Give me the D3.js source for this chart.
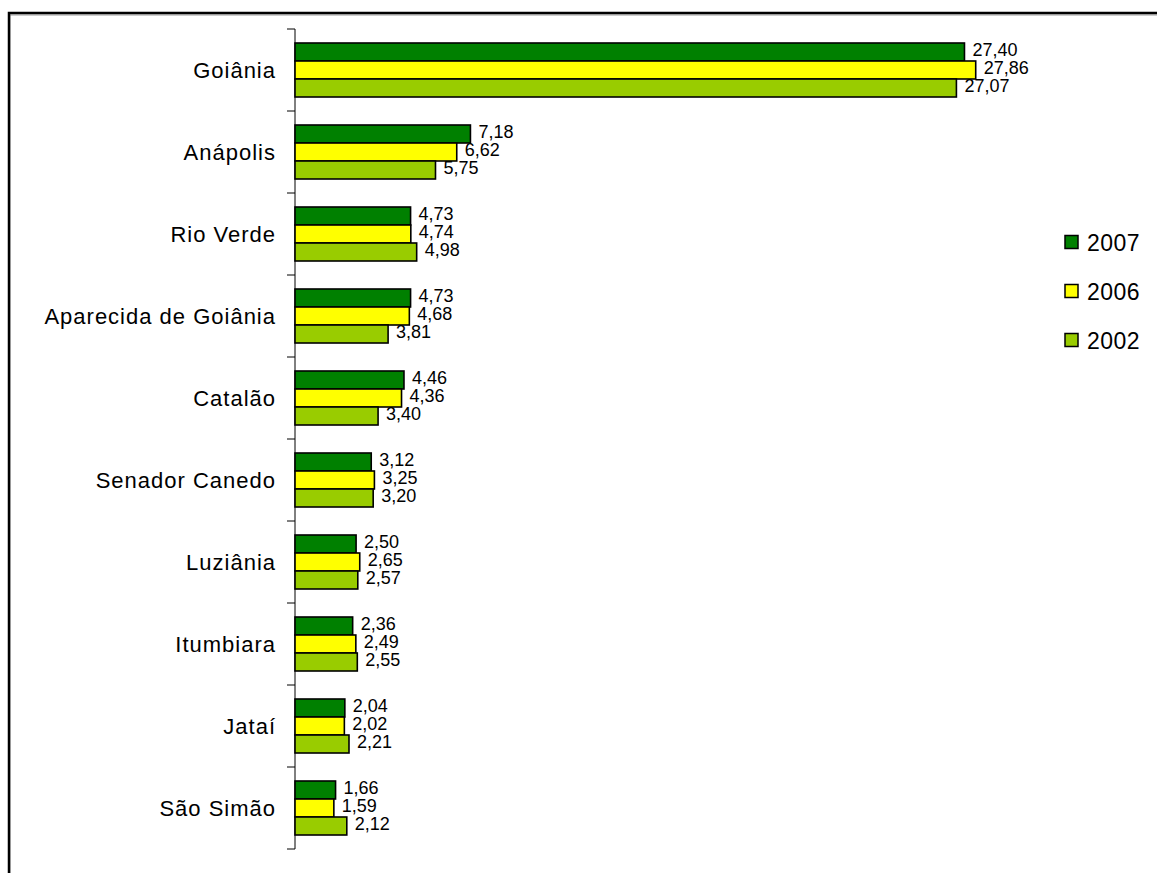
<!DOCTYPE html>
<html>
<head>
<meta charset="utf-8">
<script src="https://cdn.jsdelivr.net/npm/d3@7/dist/d3.min.js"></script>
<style>
  html, body { margin: 0; padding: 0; background: #fff; }
  svg { display: block; }
  text { font-family: "Liberation Sans", Arial, sans-serif; fill: #000; }
</style>
</head>
<body>
<svg id="chart" width="1157" height="873"></svg>
<script>
const categories = ["Goiânia", "Anápolis", "Rio Verde", "Aparecida de Goiânia", "Catalão",
  "Senador Canedo", "Luziânia", "Itumbiara", "Jataí", "São Simão"];
const seriesNames = ["2007", "2006", "2002"];
const values2007 = [27.40, 7.18, 4.73, 4.73, 4.46, 3.12, 2.50, 2.36, 2.04, 1.66];
const values2006 = [27.86, 6.62, 4.74, 4.68, 4.36, 3.25, 2.65, 2.49, 2.02, 1.59];
const values2002 = [27.07, 5.75, 4.98, 3.81, 3.40, 3.20, 2.57, 2.55, 2.21, 2.12];
const seriesColors = ["#008000", "#FFFF00", "#99CC00"];

const series = [values2007, values2006, values2002];
const svg = d3.select("#chart");

// outer frame
svg.append("path").attr("d", "M10,1000 V15 H1200").attr("fill", "none")
  .attr("stroke", "#999").attr("stroke-width", 1);
svg.append("path").attr("d", "M9,1000 V13 H1200").attr("fill", "none")
  .attr("stroke", "#000").attr("stroke-width", 2.5);

const x = d3.scaleLinear().domain([0, 30]).range([295, 295 + 733]);
const y = d3.scaleBand().domain(categories).range([29, 849]);
const inner = d3.scaleBand().domain(seriesNames).range([14, 68]);

// axis
const axisG = svg.append("g").attr("transform", "translate(295,0)");
axisG.append("line").attr("x1", 0).attr("x2", 0).attr("y1", 29).attr("y2", 849)
  .attr("stroke", "#000").attr("stroke-width", 1);
const tickYs = categories.map(c => y(c)).concat([y.range()[1]]);
axisG.selectAll("line.tick").data(tickYs).enter().append("line")
  .attr("class", "tick").attr("x1", -8).attr("x2", 0)
  .attr("y1", d => d).attr("y2", d => d)
  .attr("stroke", "#000").attr("stroke-width", 1);

// category labels
svg.append("g").selectAll("text").data(categories).enter().append("text")
  .attr("x", 276).attr("y", d => y(d) + y.bandwidth() / 2 + 7.5)
  .attr("text-anchor", "end")
  .style("font-size", "22px").style("letter-spacing", "1px")
  .text(d => d);

// bars
const groups = svg.append("g").selectAll("g").data(categories).enter().append("g")
  .attr("transform", d => `translate(0,${y(d)})`);

groups.each(function(cat, i) {
  const g = d3.select(this);
  seriesNames.forEach((s, j) => {
    const v = series[j][i];
    g.append("rect")
      .attr("x", x(0)).attr("y", inner(s))
      .attr("width", x(v) - x(0)).attr("height", inner.bandwidth())
      .attr("fill", seriesColors[j]).attr("stroke", "#000").attr("stroke-width", 1.6);
  });
  seriesNames.forEach((s, j) => {
    const v = series[j][i];
    g.append("text")
      .attr("x", x(v) + 8).attr("y", inner(s) + inner.bandwidth() / 2 + 4)
      .style("font-size", "18px")
      .text(v.toFixed(2).replace(".", ","));
  });
});

// legend
const legend = svg.append("g").selectAll("g").data(seriesNames).enter().append("g")
  .attr("transform", (d, i) => `translate(1065,${242 + i * 49})`);
legend.append("rect").attr("x", 0).attr("y", -6.5).attr("width", 13).attr("height", 13)
  .attr("fill", (d, i) => seriesColors[i]).attr("stroke", "#000").attr("stroke-width", 1.5);
legend.append("text").attr("x", 22).attr("y", 8.5)
  .style("font-size", "23px").style("letter-spacing", "0.5px")
  .text(d => d);
</script>
</body>
</html>
